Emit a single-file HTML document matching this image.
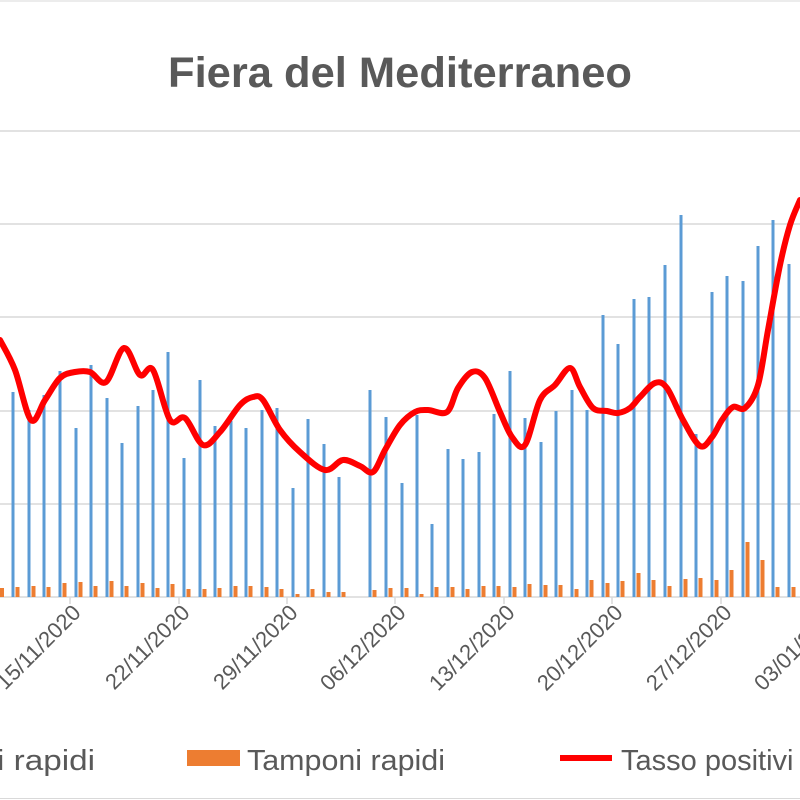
<!DOCTYPE html>
<html><head><style>
body{margin:0;background:#fff;}
svg{display:block;font-family:"Liberation Sans",sans-serif;}
</style></head><body>
<svg width="800" height="800" viewBox="0 0 800 800">
<rect x="0" y="0" width="800" height="800" fill="#fff"/>
<line x1="0" y1="798.5" x2="800" y2="798.5" stroke="#d9d9d9"/>
<line x1="0" y1="1" x2="800" y2="1" stroke="#d9d9d9"/>
<text x="400" y="87" text-anchor="middle" font-size="43" font-weight="bold" fill="#595959" textLength="464" lengthAdjust="spacingAndGlyphs">Fiera del Mediterraneo</text>
<g stroke="#d9d9d9" stroke-width="1.5">
<line x1="0" y1="131" x2="800" y2="131"/><line x1="0" y1="224" x2="800" y2="224"/>
<line x1="0" y1="317" x2="800" y2="317"/><line x1="0" y1="411" x2="800" y2="411"/>
<line x1="0" y1="504" x2="800" y2="504"/><line x1="0" y1="597" x2="800" y2="597"/>
<line x1="70" y1="597" x2="70" y2="604"/><line x1="179" y1="597" x2="179" y2="604"/>
<line x1="287" y1="597" x2="287" y2="604"/><line x1="395" y1="597" x2="395" y2="604"/>
<line x1="504" y1="597" x2="504" y2="604"/><line x1="612" y1="597" x2="612" y2="604"/>
<line x1="721" y1="597" x2="721" y2="604"/>
</g>
<g id="bars"></g>
<path id="red" fill="none" stroke="#ff0000" stroke-width="6" stroke-linejoin="round" stroke-linecap="round"/>
<g font-size="22" fill="#595959">
<text transform="translate(82,614) rotate(-45)" text-anchor="end">15/11/2020</text>
<text transform="translate(191,614) rotate(-45)" text-anchor="end">22/11/2020</text>
<text transform="translate(299,614) rotate(-45)" text-anchor="end">29/11/2020</text>
<text transform="translate(407,614) rotate(-45)" text-anchor="end">06/12/2020</text>
<text transform="translate(516,614) rotate(-45)" text-anchor="end">13/12/2020</text>
<text transform="translate(624,614) rotate(-45)" text-anchor="end">20/12/2020</text>
<text transform="translate(733,614) rotate(-45)" text-anchor="end">27/12/2020</text>
<text transform="translate(841,614) rotate(-45)" text-anchor="end">03/01/2021</text>
</g>
<g font-size="29" fill="#595959">
<text x="-3" y="770" textLength="98" lengthAdjust="spacingAndGlyphs">i rapidi</text>
<rect x="187" y="750" width="53" height="16" fill="#ed7d31"/>
<text x="247" y="770" textLength="198" lengthAdjust="spacingAndGlyphs">Tamponi rapidi</text>
<line x1="560" y1="758" x2="612" y2="758" stroke="#ff0000" stroke-width="6"/>
<text x="621" y="770">Tasso positivi</text>
</g>
</svg>
<script>
var blue=[[13,392],[29,410],[44,395],[60,371],[76,428],[91,365],[107,398],[122,443],[138,406],[153,390],[168,352],[184,458],[200,380],[215,426],[231,421],[246,428],[262,410],[277,408],[293,488],[308,419],[324,444],[339,477],[370,390],[386,417],[402,483],[417,415],[432,524],[448,449],[463,459],[479,452],[494,414],[510,371],[525,418],[541,442],[556,411],[572,390],[587,410],[603,315],[618,344],[634,299],[649,297],[665,265],[681,215],[696,434],[712,292],[727,276],[743,281],[758,246],[773,220],[789,264]];
var org=[587,586,587,583,582,586,581,586,583,588,584,589,589,588,586,586,587,589,594,589,592,592,590,588,588,594,587,587,589,586,586,587,584,585,585,589,580,583,581,573,580,586,579,578,580,570,542,560];
var g=document.getElementById('bars'),h='';
h+='<rect x="0" y="588" width="4" height="9" fill="#ed7d31"/>';
blue.forEach(function(b,i){h+='<rect x="'+(b[0]-1.5)+'" y="'+b[1]+'" width="3" height="'+(597-b[1])+'" fill="#5b9bd5"/>';
var o=org[i]!==undefined?org[i]:587;h+='<rect x="'+(b[0]+2.5)+'" y="'+o+'" width="4" height="'+(597-o)+'" fill="#ed7d31"/>';});
g.innerHTML=h;
var p=[[0,340],[15,370],[31,420],[45,400],[60,378],[75,372],[90,372],[106,382],[124,348],[140,375],[153,370],[170,420],[185,418],[203,445],[220,432],[240,405],[253,397],[263,400],[280,430],[300,452],[325,470],[343,460],[360,466],[373,472],[385,450],[400,425],[415,412],[428,410],[447,412],[458,388],[472,372],[485,378],[500,412],[512,437],[525,445],[540,400],[555,385],[570,368],[580,387],[593,408],[607,411],[618,413],[630,408],[640,397],[655,383],[667,388],[683,420],[700,446],[712,437],[722,420],[733,407],[745,408],[758,385],[768,330],[780,265],[790,225],[800,200]];
var d='M'+p[0][0]+','+p[0][1];
for(var i=0;i<p.length-1;i++){var p0=p[Math.max(i-1,0)],p1=p[i],p2=p[i+1],p3=p[Math.min(i+2,p.length-1)];
d+=' C'+(p1[0]+(p2[0]-p0[0])/6)+','+(p1[1]+(p2[1]-p0[1])/6)+' '+(p2[0]-(p3[0]-p1[0])/6)+','+(p2[1]-(p3[1]-p1[1])/6)+' '+p2[0]+','+p2[1];}
document.getElementById('red').setAttribute('d',d);
</script>
</body></html>
